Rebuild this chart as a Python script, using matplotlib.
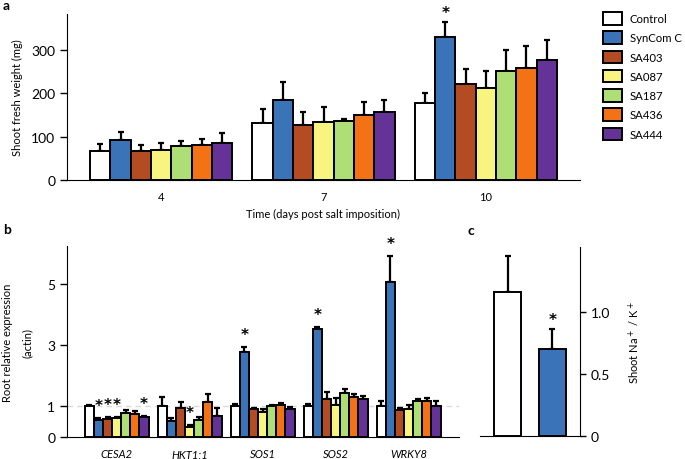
import matplotlib
matplotlib.use('Agg')
import matplotlib.pyplot as plt
import numpy as np
from matplotlib.patches import Patch

plt.rcParams['font.family'] = ['Lato', 'DejaVu Sans']

# treatments and colours
groups = ['Control', 'SynCom C', 'SA403', 'SA087', 'SA187', 'SA436', 'SA444']
colors = ['#ffffff', '#3b73b9', '#b34c23', '#f7f480', '#aedf76', '#f47216', '#653398']

# panel a: shoot fresh weight (mg) at 4, 7, 10 days
days = ['4', '7', '10']
fw_mean = [
    [68, 93, 66, 69, 78, 81.5, 85],
    [131, 184, 128, 134, 135, 149, 156],
    [178, 329, 221, 213, 251, 258, 276],
]
fw_err = [
    [15, 17, 15, 16, 13, 13.5, 23],
    [33, 42, 30, 35, 5, 30, 29],
    [22, 36, 35, 39, 48, 52, 48],
]
fw_star = [[], [], ['SynCom C']]

# panel b: root relative expression
genes = ['CESA2', 'HKT1;1', 'SOS1', 'SOS2', 'WRKY8']
expr_mean = [
    [1.0, 0.54, 0.59, 0.61, 0.79, 0.75, 0.66],
    [1.0, 0.53, 0.93, 0.33, 0.54, 1.15, 0.69],
    [1.0, 2.76, 0.90, 0.83, 1.01, 1.05, 0.92],
    [1.0, 3.53, 1.25, 1.06, 1.45, 1.31, 1.24],
    [1.0, 5.07, 0.87, 0.92, 1.16, 1.17, 1.02],
]
expr_err = [
    [0.06, 0.07, 0.07, 0.03, 0.08, 0.10, 0.04],
    [0.29, 0.09, 0.20, 0.05, 0.10, 0.24, 0.25],
    [0.09, 0.19, 0.03, 0.08, 0.05, 0.07, 0.07],
    [0.08, 0.05, 0.22, 0.21, 0.12, 0.08, 0.11],
    [0.16, 0.83, 0.09, 0.11, 0.09, 0.09, 0.16],
]
expr_star = [['SynCom C', 'SA403', 'SA087', 'SA444'], ['SA087'], ['SynCom C'], ['SynCom C'], ['SynCom C']]

# panel c: shoot Na+/K+
nak_groups = ['Control', 'SynCom C']
nak_mean = [1.16, 0.70]
nak_err = [0.29, 0.16]
nak_star = ['SynCom C']

W, H = 685, 460
fig = plt.figure(figsize=(W / 100, H / 100), dpi=100)

def box(l, t, r, b):
    return [l / W, 1 - b / H, (r - l) / W, (b - t) / H]

ekw = dict(lw=1.6, capsize=2, capthick=1.6, ecolor='black')
bw = 0.125
star_kw = dict(ha='center', va='center', fontsize=11, fontweight='bold',
               family='DejaVu Sans', textcoords='offset points', annotation_clip=False)


def grouped(ax, means, errs, stars, star_off):
    n = len(groups)
    for i, g in enumerate(groups):
        x = np.arange(len(means)) + (i - (n - 1) / 2) * bw
        m = np.array([row[i] for row in means])
        e = np.array([row[i] for row in errs])
        ax.errorbar(x, m, yerr=[np.zeros_like(e), e], fmt='none', zorder=1, **ekw)
        ax.bar(x, m, bw, color=colors[i], edgecolor='black', lw=1.4, zorder=2)
        for k in range(len(means)):
            if g in stars[k]:
                ax.annotate('*', (x[k], m[k] + e[k]), xytext=(0, star_off), **star_kw)


# ---- a
ax = fig.add_axes(box(67, 15, 580, 181))
grouped(ax, fw_mean, fw_err, fw_star, 7)
ax.set_xlim(-0.58, 2.58)
ax.set_ylim(0, 383)
ax.set_yticks([0, 100, 200, 300])
ax.set_xticks(range(len(days)))
ax.set_xticklabels(days, fontsize=8)
ax.tick_params(axis='x', length=0, pad=8)
ax.tick_params(axis='y', labelsize=10, length=5, width=1)
ax.set_xlabel('Time (days post salt imposition)', fontsize=8, labelpad=4)
ax.set_ylabel('Shoot fresh weight (mg)', fontsize=8, labelpad=6)
for s in ['top', 'right']:
    ax.spines[s].set_visible(False)

handles = [Patch(facecolor=c, edgecolor='black', lw=1.4) for c in colors]
fig.legend(handles, groups, loc='upper left', bbox_to_anchor=(602 / W, 1 - 12 / H),
           frameon=False, fontsize=8.2, handlelength=1.65, handleheight=1.3,
           labelspacing=0.6, handletextpad=0.7, borderaxespad=0, borderpad=0.1)

# ---- b
ax = fig.add_axes(box(67, 247, 459, 438))
ax.axhline(1, color='#d9d9d9', lw=1, ls=(0, (4, 3)), zorder=0)
grouped(ax, expr_mean, expr_err, expr_star, 9)
ax.set_xlim(-0.68, 4.69)
ax.set_ylim(0, 6.23)
ax.set_yticks([0, 1, 3, 5])
ax.set_xticks(range(len(genes)))
ax.set_xticklabels(genes, fontsize=8, style='italic')
ax.tick_params(axis='x', length=0, pad=8)
ax.tick_params(axis='y', labelsize=10, length=5, width=1)
ax.set_ylabel('Root relative expression\n(actin)', fontsize=8, labelpad=10, linespacing=2)
for s in ['top', 'right']:
    ax.spines[s].set_visible(False)

# ---- c
ax = fig.add_axes(box(480, 248, 580, 437))
xc = np.arange(len(nak_groups))
ax.errorbar(xc, nak_mean, yerr=[np.zeros(2), nak_err], fmt='none', zorder=1, **ekw)
ax.bar(xc, nak_mean, 0.6, color=colors[:2], edgecolor='black', lw=1.4, zorder=2)
for k, g in enumerate(nak_groups):
    if g in nak_star:
        ax.annotate('*', (xc[k], nak_mean[k] + nak_err[k]), xytext=(0, 7), **star_kw)
ax.set_xlim(-0.62, 1.62)
ax.set_ylim(0, 1.52)
ax.set_xticks([])
ax.set_yticks([0, 0.5, 1.0])
ax.set_yticklabels(['0', '0.5', '1.0'])
ax.yaxis.tick_right()
ax.yaxis.set_label_position('right')
ax.tick_params(axis='y', labelsize=10, length=4, width=1)
ax.set_ylabel('Shoot Na$^+$ / K$^+$', fontsize=8, labelpad=12)
for s in ['top', 'left']:
    ax.spines[s].set_visible(False)

fig.text(3 / W, 1 - 6 / H, 'a', fontsize=10, fontweight='bold', va='center')
fig.text(3 / W, 1 - 230 / H, 'b', fontsize=10, fontweight='bold', va='center')
fig.text(468 / W, 1 - 231 / H, 'c', fontsize=10, fontweight='bold', va='center')

fig.savefig('out.png', dpi=100)
